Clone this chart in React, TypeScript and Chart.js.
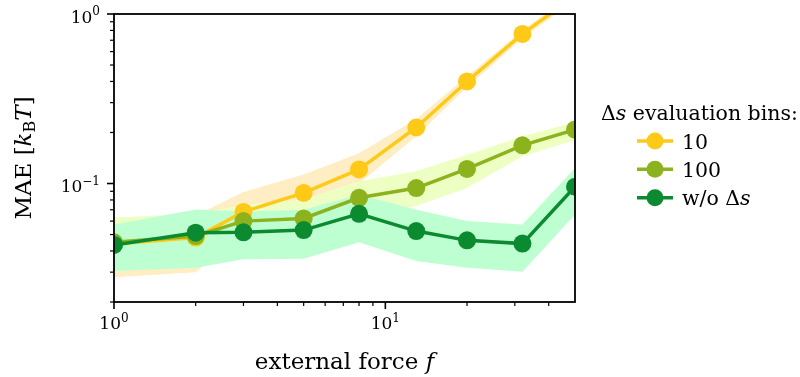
import { useEffect, useRef } from 'react';
import { Chart, registerables } from 'chart.js';
Chart.register(...registerables);

// ---------- data ----------
const forces = [1, 2, 3, 5, 8, 13, 20, 32, 50];

const bins10 = [0.044, 0.048, 0.068, 0.088, 0.121, 0.214, 0.4, 0.763, 1.28];
const bins10Low = [0.028, 0.03, 0.052, 0.072, 0.1, 0.19, 0.37, 0.72, 1.2];
const bins10High = [0.06, 0.065, 0.089, 0.113, 0.151, 0.24, 0.43, 0.8, 1.35];

const bins100 = [0.045, 0.049, 0.06, 0.0622, 0.0824, 0.094, 0.122, 0.168, 0.208];
const bins100Low = [0.03, 0.035, 0.045, 0.047, 0.062, 0.0736, 0.094, 0.145, 0.18];
const bins100High = [0.063, 0.066, 0.075, 0.0805, 0.103, 0.118, 0.148, 0.19, 0.23];

const noBins = [0.0434, 0.0513, 0.0515, 0.0531, 0.0663, 0.0524, 0.0462, 0.0442, 0.0957];
const noBinsLow = [0.0305, 0.0319, 0.0357, 0.036, 0.0451, 0.0349, 0.0319, 0.0302, 0.0657];
const noBinsHigh = [0.0574, 0.0703, 0.0683, 0.07, 0.086, 0.07, 0.06, 0.0574, 0.1236];

const xMajorTicks = [1, 10];
const xMajorExponents = ['0', '1'];
const xMinorTicks = [2, 3, 4, 5, 6, 7, 8, 9, 20, 30, 40];
const yMajorTicks = [0.1, 1];
const yMajorExponents = ['\u22121', '0'];
const yMinorTicks = [0.02, 0.03, 0.04, 0.05, 0.06, 0.07, 0.08, 0.09, 0.2, 0.3, 0.4, 0.5, 0.6, 0.7, 0.8, 0.9];

const seriesNames = ['10', '100', 'w/o \u0394s'];
const lineColors = ['#FFC917', '#8CB31D', '#0B8A2F'];
const bandColors = ['#FFEEC4', '#EEFFC4', '#BEFFD2'];

const FONT = '"DejaVu Serif", serif';

type Run = { t: string; size: number; style?: string; dy?: number };

function setFont(ctx: CanvasRenderingContext2D, r: Run) {
  ctx.font = `${r.style ?? ''} ${r.size}px ${FONT}`;
}
function drawRuns(ctx: CanvasRenderingContext2D, runs: Run[], x: number, y: number, align: 'left' | 'center' | 'right') {
  let w = 0;
  for (const r of runs) {
    setFont(ctx, r);
    w += ctx.measureText(r.t).width;
  }
  let cx = align === 'left' ? x : align === 'center' ? x - w / 2 : x - w;
  ctx.textAlign = 'left';
  ctx.textBaseline = 'alphabetic';
  for (const r of runs) {
    setFont(ctx, r);
    ctx.fillText(r.t, cx, y + (r.dy ?? 0));
    cx += ctx.measureText(r.t).width;
  }
}

const decor = {
  id: 'decor',
  afterDraw(chart: any) {
    const ctx: CanvasRenderingContext2D = chart.ctx;
    const { left, right, top, bottom } = chart.chartArea;
    const xs = chart.scales.x;
    const ys = chart.scales.y;
    ctx.save();
    ctx.strokeStyle = '#000';
    ctx.fillStyle = '#000';
    // frame
    ctx.lineWidth = 1.8;
    ctx.strokeRect(left, top, right - left, bottom - top);
    // ticks
    const tick = (vals: number[], len: number, lw: number, axis: 'x' | 'y') => {
      ctx.lineWidth = lw;
      for (const v of vals) {
        ctx.beginPath();
        if (axis === 'x') {
          const px = xs.getPixelForValue(v);
          ctx.moveTo(px, bottom);
          ctx.lineTo(px, bottom + len);
        } else {
          const py = ys.getPixelForValue(v);
          ctx.moveTo(left, py);
          ctx.lineTo(left - len, py);
        }
        ctx.stroke();
      }
    };
    tick(xMajorTicks, 7, 1.6, 'x');
    tick(xMinorTicks, 4, 1.2, 'x');
    tick(yMajorTicks, 7, 1.6, 'y');
    tick(yMinorTicks, 4, 1.2, 'y');

    // tick labels
    xMajorTicks.forEach((v, i) => {
      const px = xs.getPixelForValue(v);
      drawRuns(ctx, [{ t: '10', size: 17 }, { t: xMajorExponents[i], size: 12, dy: -7.5 }], px, 329, 'center');
    });
    yMajorTicks.forEach((v, i) => {
      const py = ys.getPixelForValue(v);
      drawRuns(ctx, [{ t: '10', size: 17 }, { t: yMajorExponents[i], size: 12, dy: -7.5 }], left - 14, py + 8.5, 'right');
    });

    // axis labels
    drawRuns(ctx, [{ t: 'external force ', size: 23 }, { t: 'f', size: 23, style: 'italic' }], (left + right) / 2, 369, 'center');
    ctx.save();
    ctx.translate(31, (top + bottom) / 2);
    ctx.rotate(-Math.PI / 2);
    drawRuns(ctx, [
      { t: 'MAE [', size: 23 },
      { t: 'k', size: 23, style: 'italic' },
      { t: 'B', size: 16, dy: 4 },
      { t: 'T', size: 23, style: 'italic' },
      { t: ']', size: 23 },
    ], 0, 0, 'center');
    ctx.restore();

    // legend
    drawRuns(ctx, [
      { t: '\u0394', size: 20.5 },
      { t: 's', size: 20.5, style: 'italic' },
      { t: ' evaluation bins:', size: 20.5 },
    ], 601, 120, 'left');
    const rowY = [141, 169.3, 197.7];
    seriesNames.forEach((name, i) => {
      const cy = rowY[i];
      ctx.strokeStyle = lineColors[i];
      ctx.fillStyle = lineColors[i];
      ctx.lineWidth = 3.5;
      ctx.beginPath();
      ctx.moveTo(637, cy);
      ctx.lineTo(673, cy);
      ctx.stroke();
      ctx.beginPath();
      ctx.arc(655, cy, 8.5, 0, Math.PI * 2);
      ctx.fill();
      ctx.fillStyle = '#000';
      const runs: Run[] = i === 2
        ? [{ t: 'w/o \u0394', size: 20.5 }, { t: 's', size: 20.5, style: 'italic' }]
        : [{ t: name, size: 20.5 }];
      drawRuns(ctx, runs, 682, cy + 7.5, 'left');
    });
    ctx.restore();
  },
};

const pts = (ys: number[]) => forces.map((f, i) => ({ x: f, y: ys[i] }));

export default function App() {
  const ref = useRef<HTMLCanvasElement | null>(null);
  useEffect(() => {
    document.body.style.margin = '0';
    if (!ref.current) return;
    const means = [bins10, bins100, noBins];
    const lows = [bins10Low, bins100Low, noBinsLow];
    const highs = [bins10High, bins100High, noBinsHigh];
    const datasets: any[] = [];
    for (let i = 0; i < 3; i++) {
      datasets.push({
        label: seriesNames[i] + ' upper',
        data: pts(highs[i]),
        borderWidth: 0,
        borderColor: 'rgba(0,0,0,0)',
        pointRadius: 0,
        backgroundColor: bandColors[i],
        fill: '+1',
        order: 10 - i,
        clip: 0,
      });
      datasets.push({
        label: seriesNames[i] + ' lower',
        data: pts(lows[i]),
        borderWidth: 0,
        borderColor: 'rgba(0,0,0,0)',
        pointRadius: 0,
        fill: false,
        order: 10 - i,
        clip: 0,
      });
    }
    for (let i = 0; i < 3; i++) {
      datasets.push({
        label: seriesNames[i],
        data: pts(means[i]),
        borderColor: lineColors[i],
        backgroundColor: lineColors[i],
        borderWidth: 3.5,
        pointRadius: 9,
        pointBorderWidth: 0,
        pointHoverRadius: 9,
        fill: false,
        order: 3 - i,
        clip: 0,
      });
    }
    const chart = new Chart(ref.current, {
      type: 'line',
      data: { datasets },
      options: {
        animation: false,
        responsive: false,
        events: [],
        layout: { padding: { left: 114, right: 225, top: 14, bottom: 75 } },
        scales: {
          x: { type: 'logarithmic', min: 1, max: 50, display: false },
          y: { type: 'logarithmic', min: 0.02, max: 1, display: false },
        },
        plugins: {
          legend: { display: false },
          tooltip: { enabled: false },
        },
      } as any,
      plugins: [decor],
    });
    return () => chart.destroy();
  }, []);
  return (
    <div style={{ width: 800, height: 377, background: '#fff' }}>
      <canvas ref={ref} width={800} height={377} style={{ display: 'block' }} />
    </div>
  );
}
